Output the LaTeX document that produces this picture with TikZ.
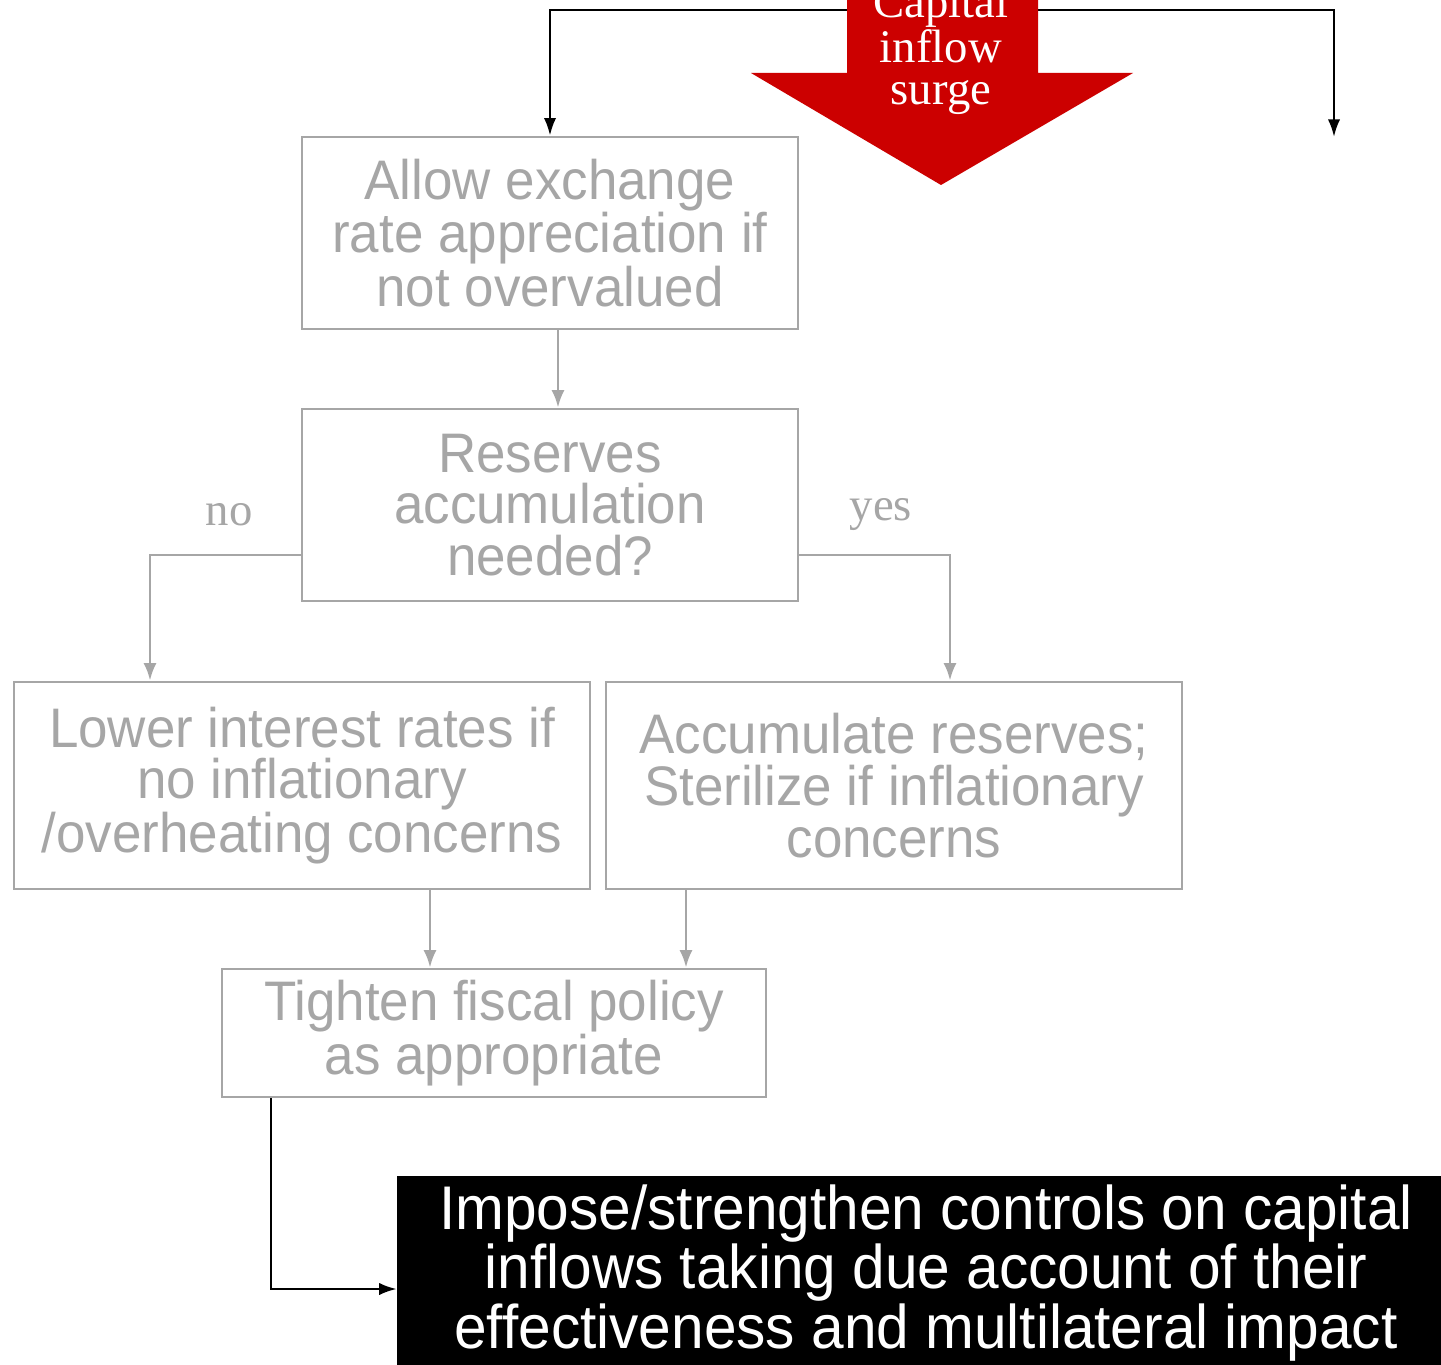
\documentclass[tikz,border=0pt]{standalone}
\usepackage{fontspec}
\usetikzlibrary{arrows.meta}
\newfontfamily\boxfont{Liberation Sans}[FakeStretch=0.95]
\newfontfamily\labelfont{Liberation Serif}
\definecolor{boxgray}{HTML}{A6A6A6}
\definecolor{surgered}{HTML}{CC0000}

\begin{document}
\begin{tikzpicture}[x=0.02cm, y=-0.02cm,
  box/.style={draw=boxgray, line width=1.6pt, align=center, text=boxgray, inner sep=0pt,
    font=\boxfont\fontsize{31.7}{29.5}\selectfont},
  grayarrow/.style={draw=boxgray, line width=1.6pt, -{Latex[length=10pt,width=7.5pt]}},
  blackarrow/.style={line width=1.4pt, -{Latex[length=10pt,width=7pt]}},
  lbl/.style={inner sep=0pt, font=\labelfont\fontsize{26.6}{23.8}\selectfont}]
\clip (0,0) rectangle (1441,1365);
\fill[white] (0,0) rectangle (1441,1365);

% boxes
\node[box, minimum width=9.92cm, minimum height=3.84cm] (allow) at (550,233)
  {Allow exchange\\rate appreciation if\\not overvalued};
\node[box, minimum width=9.92cm, minimum height=3.84cm] (reserves) at (550,505)
  {Reserves\\accumulation\\needed?};
\node[box, minimum width=11.52cm, minimum height=4.14cm] (lower) at (302,785.5)
  {Lower interest rates if\\no inflationary\\/overheating concerns};
\node[box, minimum width=11.52cm, minimum height=4.14cm] (accumulate) at (894,785.5)
  {Accumulate reserves;\\Sterilize if inflationary\\concerns};
\node[box, minimum width=10.88cm, minimum height=2.56cm] (tighten) at (494,1033)
  {Tighten fiscal policy\\as appropriate};
\node[fill=black, text=white, align=center, inner sep=0pt, minimum width=21.16cm, minimum height=3.88cm,
  font=\boxfont\fontsize{35.1}{31.7}\selectfont] (impose) at (926,1273)
  {Impose/strengthen controls on capital\\inflows taking due account of their\\effectiveness and multilateral impact};

% labels
\node[lbl, text=boxgray] (no) at (229,515) {no};
\node[lbl, text=boxgray] (yes) at (881,515) {yes};

% connectors
\coordinate (topbar) at (941,10);
\coordinate (rightend) at (1334,137);
\coordinate (nobend) at (150,555);
\coordinate (yesbend) at (950,555);
\draw[blackarrow] (topbar) -| (allow.north);
\draw[blackarrow] (topbar) -| (rightend);
\draw[grayarrow] (allow.south -| 558,0) -- (reserves.north -| 558,0);
\draw[grayarrow] (reserves.west |- nobend) -- (nobend) -- (nobend |- lower.north);
\draw[grayarrow] (reserves.east |- yesbend) -- (yesbend) -- (yesbend |- accumulate.north);
\draw[grayarrow] (lower.south -| 430,0) -- (tighten.north -| 430,0);
\draw[grayarrow] (accumulate.south -| 686,0) -- (tighten.north -| 686,0);
\draw[blackarrow] (tighten.south -| 271,0) |- (impose.west |- 0,1289);

% surge arrow
\fill[surgered] (847,-30) -- (1038,-30) -- (1038,73) -- (1133,73) -- (941,185) -- (751,73) -- (847,73) -- cycle;
\node[lbl, text=white, align=center] (surge) at (941,50) {Capital\\inflow\\surge};
\end{tikzpicture}
\end{document}
